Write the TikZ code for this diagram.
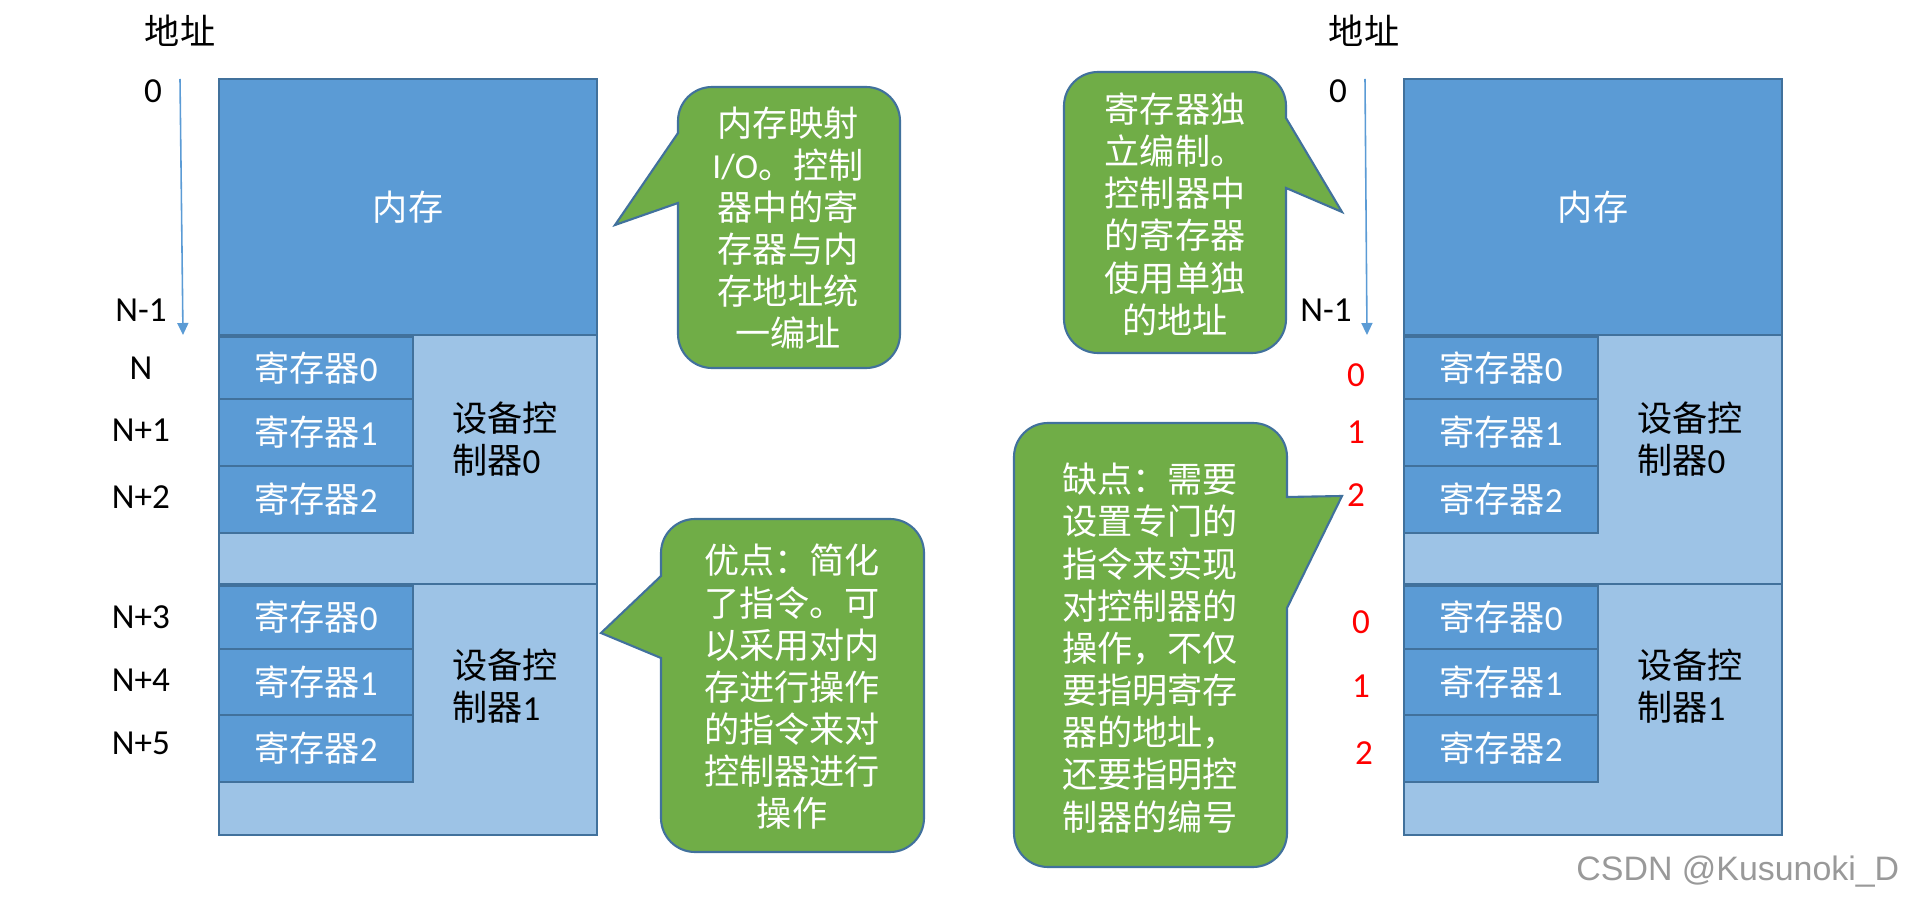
\documentclass[tikz,border=0pt]{standalone}
\usepackage{fontspec}
\setmainfont{Carlito}
\newfontfamily\cjk{Noto Sans CJK SC}
\newfontfamily\marksf{Liberation Sans}
\newcommand{\zh}[1]{{\cjk #1}}
\usetikzlibrary{arrows.meta}
\definecolor{membox}{HTML}{5B9BD5}
\definecolor{ctrlbox}{HTML}{9DC3E6}
\definecolor{edgeline}{HTML}{41719C}
\definecolor{bubblefill}{HTML}{70AD47}
\begin{document}
\begin{tikzpicture}[
    every node/.style={font=\fontsize{10}{12}\selectfont, inner sep=0pt, align=center},
    memrect/.style={draw=edgeline, line width=0.6pt, fill=membox},
    ctrlrect/.style={draw=edgeline, line width=0.6pt, fill=ctrlbox},
    bubble/.style={draw=edgeline, line width=0.6pt, fill=bubblefill, radius=0.34},
    whitetext/.style={text=white},
    redaddr/.style={text=red},
    addrline/.style={draw=membox, line width=0.45pt, -{Triangle[length=1.2mm, width=1.1mm]}}
  ]
  \useasboundingbox (0,0) rectangle (19.05,9.03);

  % Left and right memory blocks are the same, only shifted
  \foreach \side/\dx in {L/0, R/11.85} {
    \begin{scope}[xshift=\dx cm]
      \draw[memrect] (2.19,8.24) rectangle (5.97,5.68) node[pos=0.5, whitetext] (mem\side) {\zh{内存}};

      % Device controllers
      \draw[ctrlrect] (2.19,5.68) rectangle (5.97,3.19);
      \draw[ctrlrect] (2.19,3.19) rectangle (5.97,0.68);
      \node[align=left] (ctrlA\side) at (5.05,4.64) {\zh{设备控}\\\zh{制器}0};
      \node[align=left] (ctrlB\side) at (5.05,2.17) {\zh{设备控}\\\zh{制器}1};

      % Registers of controller 0
      \draw[memrect] (2.19,5.66) rectangle (4.13,5.04) node[pos=0.5, whitetext] (regA0\side) {\zh{寄存器}0};
      \draw[memrect] (2.19,5.04) rectangle (4.13,4.37) node[pos=0.5, whitetext] (regA1\side) {\zh{寄存器}1};
      \draw[memrect] (2.19,4.37) rectangle (4.13,3.70) node[pos=0.5, whitetext] (regA2\side) {\zh{寄存器}2};

      % Registers of controller 1
      \draw[memrect] (2.19,3.17) rectangle (4.13,2.54) node[pos=0.5, whitetext] (regB0\side) {\zh{寄存器}0};
      \draw[memrect] (2.19,2.54) rectangle (4.13,1.88) node[pos=0.5, whitetext] (regB1\side) {\zh{寄存器}1};
      \draw[memrect] (2.19,1.88) rectangle (4.13,1.21) node[pos=0.5, whitetext] (regB2\side) {\zh{寄存器}2};
    \end{scope}
  }

  % Address axis, left
  \node (addrL) at (1.80,8.72) {\zh{地址}};
  \coordinate (axisTopL) at (1.80,8.24);
  \coordinate (axisEndL) at (1.83,5.68);
  \draw[addrline] (axisTopL) -- (axisEndL);
  \node (zeroL) at (1.53,8.12) {0};
  \node (nm1L) at (1.41,5.93) {N-1};
  \node (n0L) at (1.41,5.35) {N};
  \node (n1L) at (1.41,4.73) {N+1};
  \node (n2L) at (1.41,4.06) {N+2};
  \node (n3L) at (1.41,2.86) {N+3};
  \node (n4L) at (1.41,2.23) {N+4};
  \node (n5L) at (1.41,1.60) {N+5};

  % Address axis, right
  \node (addrR) at (13.64,8.72) {\zh{地址}};
  \coordinate (axisTopR) at (13.65,8.24);
  \coordinate (axisEndR) at (13.67,5.68);
  \draw[addrline] (axisTopR) -- (axisEndR);
  \node (zeroR) at (13.38,8.12) {0};
  \node (nm1R) at (13.26,5.93) {N-1};
  \node[redaddr] (ra0) at (13.56,5.28) {0};
  \node[redaddr] (ra1) at (13.56,4.71) {1};
  \node[redaddr] (ra2) at (13.56,4.08) {2};
  \node[redaddr] (rb0) at (13.61,2.81) {0};
  \node[redaddr] (rb1) at (13.61,2.17) {1};
  \node[redaddr] (rb2) at (13.64,1.50) {2};

  % Speech bubbles, tail first
  \draw[bubble] (6.78,7.70) -- (6.15,6.78) -- (6.78,7.00) -- (6.78,5.69) arc[start angle=180, end angle=270] -- (8.66,5.35) arc[start angle=270, end angle=360] -- (9.00,7.82) arc[start angle=0, end angle=90] -- (7.12,8.16) arc[start angle=90, end angle=180] -- cycle;
  \node[whitetext] (bubbleMap) at (7.88,6.75) {\zh{内存映射}\\I/O\zh{。控制}\\\zh{器中的寄}\\\zh{存器与内}\\\zh{存地址统}\\\zh{一编址}};

  \draw[bubble] (6.61,3.27) -- (6.01,2.70) -- (6.61,2.45) -- (6.61,0.85) arc[start angle=180, end angle=270] -- (8.90,0.51) arc[start angle=270, end angle=360] -- (9.24,3.50) arc[start angle=0, end angle=90] -- (6.95,3.84) arc[start angle=90, end angle=180] -- cycle;
  \node[whitetext] (bubblePro) at (7.92,2.16) {\zh{优点：简化}\\\zh{了指令。可}\\\zh{以采用对内}\\\zh{存进行操作}\\\zh{的指令来对}\\\zh{控制器进行}\\\zh{操作}};

  \draw[bubble] (12.86,7.85) -- (13.42,6.91) -- (12.86,7.15) -- (12.86,5.84) arc[start angle=360, end angle=270] -- (10.98,5.50) arc[start angle=270, end angle=180] -- (10.64,7.97) arc[start angle=180, end angle=90] -- (12.52,8.31) arc[start angle=90, end angle=0] -- cycle;
  \node[whitetext] (bubbleIso) at (11.75,6.89) {\zh{寄存器独}\\\zh{立编制。}\\\zh{控制器中}\\\zh{的寄存器}\\\zh{使用单独}\\\zh{的地址}};

  \draw[bubble] (12.87,4.06) -- (13.42,4.07) -- (12.87,2.95) -- (12.87,0.70) arc[start angle=360, end angle=270] -- (10.48,0.36) arc[start angle=270, end angle=180] -- (10.14,4.46) arc[start angle=180, end angle=90] -- (12.53,4.80) arc[start angle=90, end angle=0] -- cycle;
  \node[whitetext] (bubbleCon) at (11.50,2.55) {\zh{缺点：需要}\\\zh{设置专门的}\\\zh{指令来实现}\\\zh{对控制器的}\\\zh{操作，不仅}\\\zh{要指明寄存}\\\zh{器的地址，}\\\zh{还要指明控}\\\zh{制器的编号}};

  % Site mark
  \node[text=black!40, font=\marksf\fontsize{9.65}{12}\selectfont, anchor=east] (siteMark) at (19.00,0.31) {CSDN @Kusunoki\_D};
\end{tikzpicture}
\end{document}
